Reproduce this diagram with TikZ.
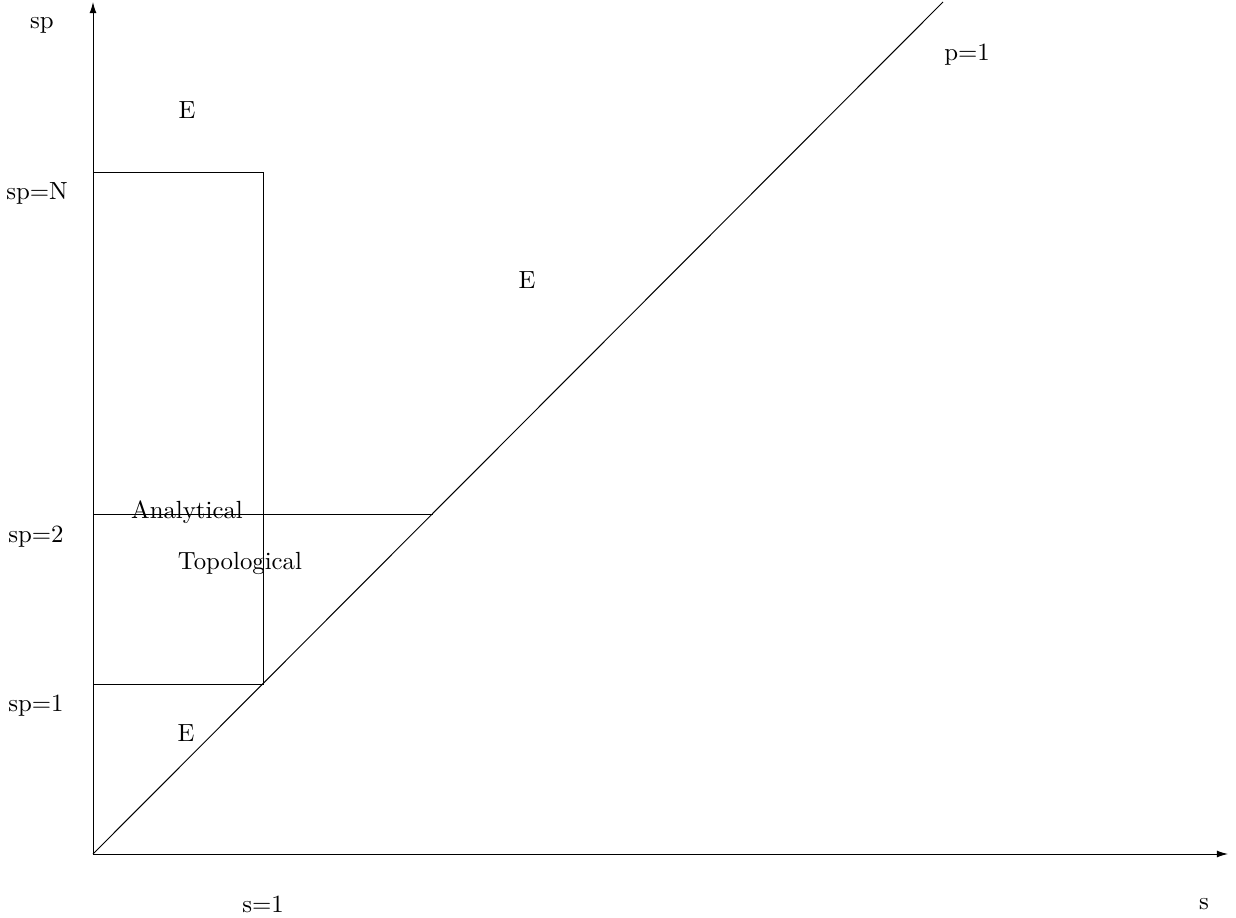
\documentclass[tikz,border=0pt]{standalone}
\usetikzlibrary{arrows.meta}
\begin{document}
\begin{tikzpicture}[x=0.403pt,y=-0.403pt,
  ln/.style={line width=0.4pt},
  ax/.style={line width=0.4pt,-{Latex[length=4.5pt,width=2.8pt]}},
  lbl/.style={inner sep=0pt,font=\normalsize}]
\useasboundingbox (0,0) rectangle (1236,918);
\coordinate (O) at (93,854);
\coordinate (ytop) at (93,2);
\coordinate (xend) at (1228,854);
\coordinate (r1) at (93,173);
\coordinate (r2) at (263,684);
\coordinate (h1) at (93,514);
\coordinate (h2) at (433,514);
\coordinate (dtop) at (943,2);
\draw[ax] (O) -- (ytop);
\draw[ax] (O) -- (xend);
\draw[ln] (r1) rectangle (r2);
\draw[ln] (h1) -- (h2);
\draw[ln] (O) -- (dtop);
\node[lbl] (lsp) at (42,25) {sp};
\node[lbl] (e1) at (187,110) {E};
\node[lbl] (lspN) at (37,193) {sp=N};
\node[lbl] (e2) at (527,280) {E};
\node[lbl] (lp) at (967,55) {p=1};
\node[lbl] (an) at (187,512) {Analytical};
\node[lbl] (lsp2) at (36,537) {sp=2};
\node[lbl] (top) at (240,563) {Topological};
\node[lbl] (lsp1) at (36,706) {sp=1};
\node[lbl] (e3) at (186,733) {E};
\node[lbl] (ls1) at (263,904) {s=1};
\node[lbl] (ls) at (1204,904) {s};
\end{tikzpicture}
\end{document}
